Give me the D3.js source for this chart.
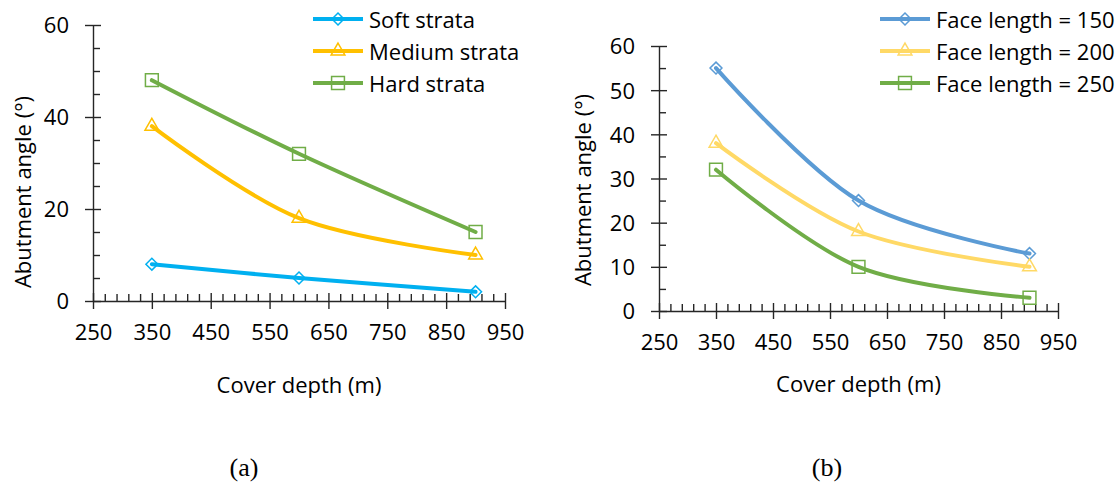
<!DOCTYPE html>
<html>
<head>
<meta charset="utf-8">
<script src="https://cdn.jsdelivr.net/npm/d3@7"></script>
<style>
  body { margin: 0; background: #fff; }
  text { font-family: "Open Sans", sans-serif; fill: #000; }
</style>
</head>
<body>
<svg id="chart" width="1119" height="486"></svg>
<script>
// data
var depth = [350, 600, 900];

var strataNames = ['Soft strata', 'Medium strata', 'Hard strata'];
var softStrata = [8, 5, 2];
var mediumStrata = [38, 18, 10];
var hardStrata = [48, 32, 15];

var faceNames = ['Face length = 150', 'Face length = 200', 'Face length = 250'];
var face150 = [55, 25, 13];
var face200 = [38, 18, 10];
var face250 = [32, 10, 3];

var xTickLabels = [250, 350, 450, 550, 650, 750, 850, 950];
var yTicksA = [0, 20, 40, 60];
var yTicksB = [0, 10, 20, 30, 40, 50, 60];

var fontSize = '22px';

var svg = d3.select('#chart');
svg.append('rect').attr('width', 1119).attr('height', 486).attr('fill', '#fff');

function drawPanel(opt) {
  var x = d3.scaleLinear().domain([250, 950]).range([opt.left, opt.right]);
  var y = d3.scaleLinear().domain([0, 60]).range([opt.bottom, opt.top]);
  var g = svg.append('g');

  // minor ticks
  var xMinor = d3.range(250, 951, 20).filter(v => (v - 250) % 100 !== 0);
  var yMinor = d3.range(0, 61, 5).filter(v => opt.yTicks.indexOf(v) < 0);

  var xm = g.append('g').attr('transform', 'translate(0,' + opt.bottom + ')')
    .call(d3.axisBottom(x).tickValues(xMinor).tickSize(-7).tickFormat(''));
  xm.select('.domain').remove();
  var ym = g.append('g').attr('transform', 'translate(' + opt.left + ',0)')
    .call(d3.axisLeft(y).tickValues(yMinor).tickSize(-7).tickFormat(''));
  ym.select('.domain').remove();

  // major axes
  var xa = g.append('g').attr('transform', 'translate(0,' + opt.bottom + ')')
    .call(d3.axisBottom(x).tickValues(xTickLabels).tickSize(8).tickSizeOuter(0));
  xa.selectAll('.tick line').attr('y1', -8);
  xa.selectAll('.tick text').attr('y', 23).attr('dy', '0.74em');

  var ya = g.append('g').attr('transform', 'translate(' + opt.left + ',0)')
    .call(d3.axisLeft(y).tickValues(opt.yTicks).tickSize(8).tickSizeOuter(0));
  ya.selectAll('.tick line').attr('x1', 8);
  ya.selectAll('.tick text').attr('x', -24).attr('dy', '0.36em');

  [xa, ya, xm, ym].forEach(function (a) {
    a.selectAll('line, path').attr('stroke', '#262626').attr('stroke-width', 1.4);
    a.selectAll('text').style('font-size', fontSize).style('font-family', '"Open Sans", sans-serif').attr('fill', '#000');
  });

  // axis titles
  g.append('text')
    .attr('x', (opt.left + opt.right) / 2).attr('y', opt.xTitleY)
    .attr('text-anchor', 'middle').attr('dominant-baseline', 'central')
    .style('font-size', fontSize).text('Cover depth (m)');
  g.append('text')
    .attr('transform', 'translate(' + opt.yTitleX + ',' + opt.yTitleY + ') rotate(-90)')
    .attr('text-anchor', 'middle').attr('dominant-baseline', 'central')
    .style('font-size', fontSize).text('Abutment angle (°)');

  var line = d3.line()
    .x((d, i) => x(depth[i]))
    .y(d => y(d))
    .curve(d3.curveCatmullRom.alpha(0));

  opt.series.forEach(function (s, k) {
    g.append('path').datum(s.values)
      .attr('fill', 'none').attr('stroke', s.color)
      .attr('stroke-width', 4).attr('stroke-linecap', 'round')
      .attr('d', line);
    g.selectAll('.m' + k).data(s.values).enter().append('path')
      .attr('transform', (d, i) => 'translate(' + x(depth[i]) + ',' + y(d) + ')')
      .attr('d', d3.symbol().type(s.symbol).size(s.size))
      .attr('fill', 'none').attr('stroke', s.color).attr('stroke-width', 1.5);

    // legend
    var ly = opt.legendY + k * 32;
    g.append('line')
      .attr('x1', opt.legendX).attr('x2', opt.legendX + 50)
      .attr('y1', ly).attr('y2', ly)
      .attr('stroke', s.color).attr('stroke-width', 4);
    g.append('path')
      .attr('transform', 'translate(' + (opt.legendX + 25) + ',' + ly + ')')
      .attr('d', d3.symbol().type(s.symbol).size(s.size))
      .attr('fill', 'none').attr('stroke', s.color).attr('stroke-width', 1.5);
    g.append('text')
      .attr('x', opt.legendX + 56).attr('y', ly)
      .attr('dominant-baseline', 'central')
      .style('font-size', fontSize).text(s.name);
  });

  svg.append('text')
    .attr('x', opt.captionX).attr('y', 467)
    .attr('text-anchor', 'middle').attr('dominant-baseline', 'central')
    .style('font-family', '"Liberation Serif", "Times New Roman", serif')
    .style('font-size', '26px').text(opt.caption);
}

drawPanel({
  left: 93, right: 505, top: 25, bottom: 301,
  yTicks: yTicksA, xTitleY: 384, yTitleX: 22, yTitleY: 192,
  legendX: 313, legendY: 19, captionX: 244, caption: '(a)',
  series: [
    { name: strataNames[0], values: softStrata, color: '#00B0F0', symbol: d3.symbolDiamond2, size: 90 },
    { name: strataNames[1], values: mediumStrata, color: '#FFC000', symbol: d3.symbolTriangle2, size: 135 },
    { name: strataNames[2], values: hardStrata, color: '#70AD47', symbol: d3.symbolSquare2, size: 210 }
  ]
});

drawPanel({
  left: 659, right: 1058, top: 46, bottom: 311,
  yTicks: yTicksB, xTitleY: 383, yTitleX: 582, yTitleY: 190,
  legendX: 880, legendY: 19, captionX: 827, caption: '(b)',
  series: [
    { name: faceNames[0], values: face150, color: '#5B9BD5', symbol: d3.symbolDiamond2, size: 90 },
    { name: faceNames[1], values: face200, color: '#FFD966', symbol: d3.symbolTriangle2, size: 135 },
    { name: faceNames[2], values: face250, color: '#70AD47', symbol: d3.symbolSquare2, size: 210 }
  ]
});
</script>
</body>
</html>
